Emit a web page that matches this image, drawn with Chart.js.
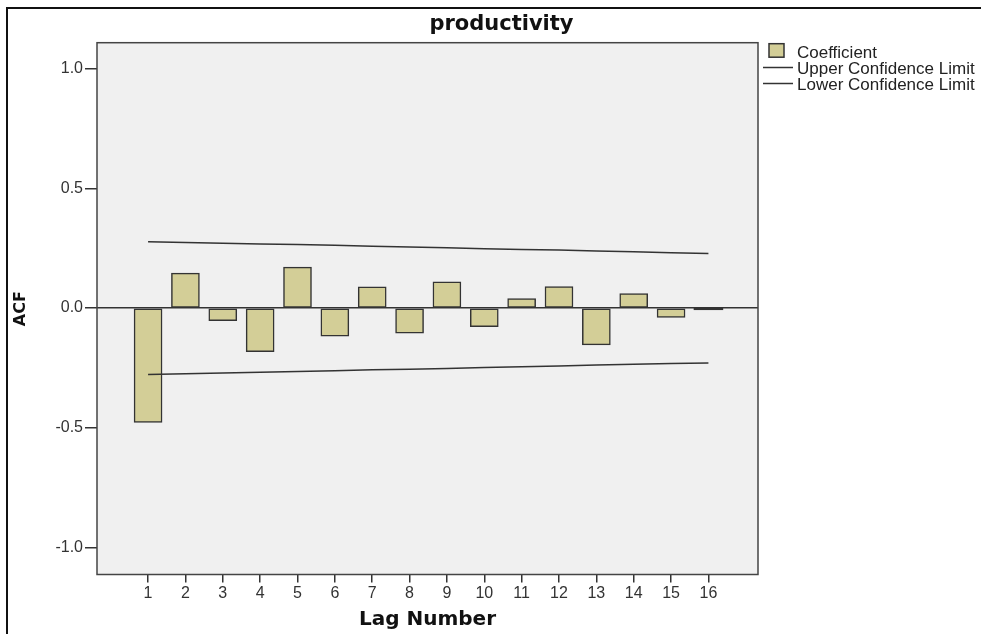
<!DOCTYPE html>
<html><head><meta charset="utf-8">
<script src="https://cdn.jsdelivr.net/npm/chart.js@4.4.1/dist/chart.umd.min.js"></script>
<style>
html,body{margin:0;padding:0;background:#fff;overflow:hidden;width:981px;height:634px}
#frame{position:absolute;left:6px;top:7px;width:1200px;height:800px;border:2px solid #111;box-sizing:border-box;pointer-events:none}
canvas{position:absolute;left:0;top:0}
</style></head><body>
<canvas id="c" width="1003" height="634" aria-label="productivity"></canvas>
<div id="frame"></div>
<script>
const chartTitle = 'productivity';
const xTitle = 'Lag Number';
const yTitle = 'ACF';
const seriesNames = ['Coefficient', 'Upper Confidence Limit', 'Lower Confidence Limit'];
const lags = [1, 2, 3, 4, 5, 6, 7, 8, 9, 10, 11, 12, 13, 14, 15, 16];
const acf = [-0.478, 0.146, -0.053, -0.182, 0.171, -0.117, 0.089, -0.105, 0.110, -0.078, 0.040, 0.090, -0.154, 0.060, -0.039, -0.005];
const upperLimit = [0.277, 0.274, 0.271, 0.268, 0.265, 0.262, 0.258, 0.255, 0.252, 0.248, 0.245, 0.242, 0.238, 0.235, 0.231, 0.228];
const lowerLimit = [-0.277, -0.274, -0.271, -0.268, -0.265, -0.262, -0.258, -0.255, -0.252, -0.248, -0.245, -0.242, -0.238, -0.235, -0.231, -0.229];
const yTicks = [-1.0, -0.5, 0.0, 0.5, 1.0];

const barFill = '#d3ce97';
const ink = '#333';
const tiny = c => c.raw && Math.abs(c.raw.y) < 0.01;

const plotFrame = {
  id: 'plotFrame',
  beforeDraw(chart) {
    const {ctx, chartArea: a} = chart;
    ctx.save();
    ctx.fillStyle = '#f0f0f0';
    ctx.fillRect(a.left, a.top, a.right - a.left, a.bottom - a.top);
    ctx.restore();
  },
  afterDraw(chart) {
    const {ctx, chartArea: a} = chart;
    ctx.save();
    ctx.strokeStyle = '#444';
    ctx.lineWidth = 1.5;
    ctx.strokeRect(a.left, a.top, a.right - a.left, a.bottom - a.top);
    // title, centred over the whole figure
    ctx.font = 'bold 21px "DejaVu Sans", sans-serif';
    ctx.fillStyle = '#111';
    ctx.textAlign = 'center';
    ctx.textBaseline = 'middle';
    ctx.fillText(chartTitle, chart.width / 2, a.top - 18.4);
    // legend
    const ds = chart.data.datasets;
    const lx = a.right;
    const t = a.top;
    ctx.font = '17px "Liberation Sans", Arial, sans-serif';
    ctx.textBaseline = 'alphabetic';
    ctx.textAlign = 'left';
    ctx.fillStyle = barFill;
    ctx.fillRect(lx + 11, t + 1, 15, 13.5);
    ctx.strokeStyle = ink;
    ctx.lineWidth = 1.5;
    ctx.strokeRect(lx + 11, t + 1, 15, 13.5);
    ctx.fillStyle = '#222';
    ctx.fillText(ds[0].label, lx + 39, t + 15.5);
    const rows = [[ds[1], t + 24.8, t + 31], [ds[2], t + 40.8, t + 47]];
    rows.forEach(([d, ly, by]) => {
      ctx.strokeStyle = d.borderColor;
      ctx.lineWidth = 1.5;
      ctx.beginPath();
      ctx.moveTo(lx + 5, ly);
      ctx.lineTo(lx + 35, ly);
      ctx.stroke();
      ctx.fillStyle = '#222';
      ctx.fillText(d.label, lx + 39, by);
    });
    ctx.restore();
  }
};

new Chart(document.getElementById('c'), {
  data: {
    datasets: [
      {
        type: 'bar',
        label: seriesNames[0],
        data: lags.map((l, i) => ({x: l, y: acf[i]})),
        backgroundColor: c => (tiny(c) ? ink : barFill),
        inflateAmount: c => (tiny(c) ? 1 : 'auto'),
        borderColor: ink,
        borderWidth: 1.5,
        borderSkipped: false,
        barThickness: 28,
        order: 2
      },
      {
        type: 'line',
        label: seriesNames[1],
        data: lags.map((l, i) => ({x: l, y: upperLimit[i]})),
        borderColor: ink,
        borderWidth: 1.5,
        pointRadius: 0,
        fill: false,
        order: 1
      },
      {
        type: 'line',
        label: seriesNames[2],
        data: lags.map((l, i) => ({x: l, y: lowerLimit[i]})),
        borderColor: ink,
        borderWidth: 1.5,
        pointRadius: 0,
        fill: false,
        order: 1
      }
    ]
  },
  options: {
    responsive: false,
    animation: false,
    layout: {padding: {left: 0, right: 245, top: 42.7, bottom: 0}},
    plugins: {
      legend: {display: false},
      tooltip: {enabled: false},
      title: {display: false}
    },
    scales: {
      x: {
        type: 'linear',
        offset: false,
        min: -0.367,
        max: 17.327,
        afterBuildTicks: s => { s.ticks = lags.map(v => ({value: v})); },
        afterFit: s => { s.height = 59.5; },
        ticks: {
          callback: v => String(v),
          color: ink,
          padding: 1,
          maxRotation: 0,
          autoSkip: false,
          font: {family: '"Liberation Sans", Arial, sans-serif', size: 16}
        },
        grid: {offset: false, color: 'rgba(0,0,0,0)', tickColor: ink, tickLength: 8, lineWidth: 1.5},
        border: {display: false},
        title: {
          display: true,
          text: xTitle,
          color: '#111',
          font: {family: '"DejaVu Sans", sans-serif', size: 20, weight: 'bold'},
          padding: {top: 0, bottom: 2}
        }
      },
      y: {
        type: 'linear',
        min: -1.1125,
        max: 1.108,
        afterBuildTicks: s => { s.ticks = yTicks.map(v => ({value: v})); },
        afterFit: s => { s.width = 97; },
        ticks: {
          callback: v => v.toFixed(1),
          color: ink,
          padding: 2,
          font: {family: '"Liberation Sans", Arial, sans-serif', size: 16}
        },
        grid: {
          color: c => (c.tick && c.tick.value === 0 ? ink : 'rgba(0,0,0,0)'),
          tickColor: ink,
          tickLength: 12,
          lineWidth: 1.5
        },
        border: {display: false},
        title: {
          display: true,
          text: yTitle,
          color: '#111',
          font: {family: '"DejaVu Sans", sans-serif', size: 16, weight: 'bold'},
          padding: {top: 11, bottom: 0}
        }
      }
    }
  },
  plugins: [plotFrame]
});
</script>
</body></html>
